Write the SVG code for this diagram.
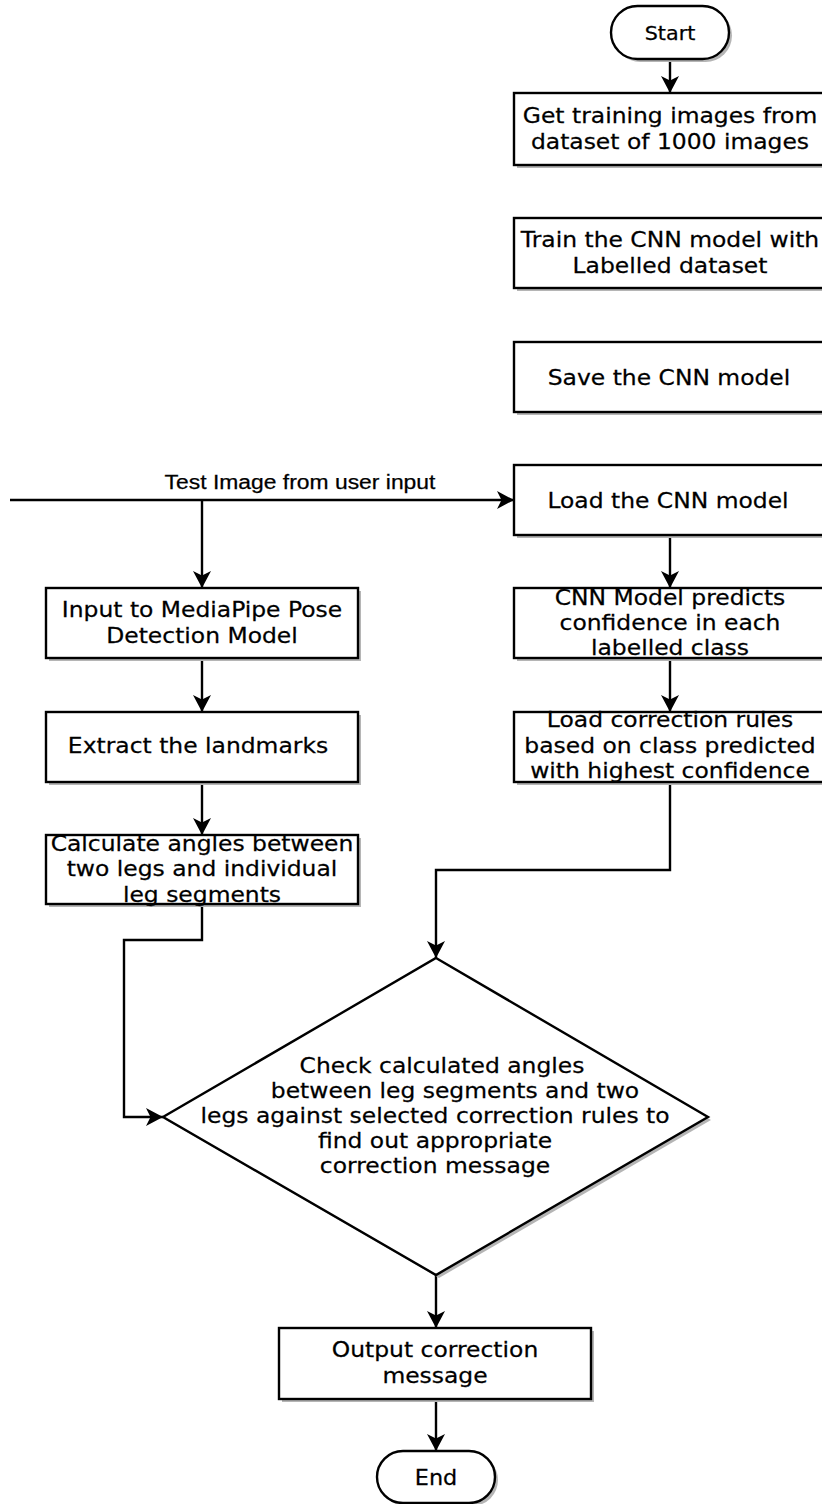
<svg xmlns="http://www.w3.org/2000/svg" width="822" height="1504" viewBox="0 0 822 1504">
<defs>
<style>
.box{fill:#fff;stroke:#000;stroke-width:2.4}
.sh{fill:#b5b5b5}
.t{font-family:"DejaVu Sans",Verdana,sans-serif;font-size:21.5px;fill:#000;stroke:#000;stroke-width:0.25;text-anchor:middle}
.lbl{font-family:"Liberation Sans",Arial,sans-serif;font-size:21px;fill:#000;stroke:#000;stroke-width:0.25;text-anchor:middle}
.c{fill:none;stroke:#000;stroke-width:2.4}
</style>
<marker id="ah" viewBox="0 0 17 18" refX="17" refY="9" markerWidth="17" markerHeight="18" markerUnits="userSpaceOnUse" orient="auto">
<path d="M0,0 L17,9 L0,18 L4.5,9 Z" fill="#000"/>
</marker>
</defs>
<rect width="822" height="1504" fill="#fff"/>

<g id="connectors">
<path class="c" d="M10,500 H514" marker-end="url(#ah)"/>
<path class="c" d="M202,500 V588" marker-end="url(#ah)"/>
<path class="c" d="M670,59 V93" marker-end="url(#ah)"/>
<path class="c" d="M670,535 V588" marker-end="url(#ah)"/>
<path class="c" d="M670,658 V712" marker-end="url(#ah)"/>
<path class="c" d="M670,782 V870 H436 V958" marker-end="url(#ah)"/>
<path class="c" d="M202,658 V712" marker-end="url(#ah)"/>
<path class="c" d="M202,782 V835" marker-end="url(#ah)"/>
<path class="c" d="M202,904 V940 H124 V1117 H163" marker-end="url(#ah)"/>
<path class="c" d="M436,1275 V1328" marker-end="url(#ah)"/>
<path class="c" d="M436,1399 V1451" marker-end="url(#ah)"/>
<text class="lbl" transform="matrix(1.09 0 0 1 300 0)" x="0" y="489">Test Image from user input</text>
</g>

<g id="start">
<rect class="sh" x="614" y="9" width="118" height="53" rx="26.5"/>
<rect class="box" x="611" y="6" width="118" height="53" rx="26.5"/>
<text class="t" style="font-size:19px" transform="matrix(1.09 0 0 1 670 0)" x="0" y="40">Start</text>
</g>

<g id="get-images">
<rect class="sh" x="517" y="96" width="312" height="72"/>
<rect class="box" x="514" y="93" width="312" height="72"/>
<g transform="matrix(1.09 0 0 1 670 0)">
<text class="t" x="0" y="123">Get training images from</text>
<text class="t" x="0" y="149">dataset of 1000 images</text>
</g>
</g>

<g id="train">
<rect class="sh" x="517" y="221" width="312" height="70"/>
<rect class="box" x="514" y="218" width="312" height="70"/>
<g transform="matrix(1.09 0 0 1 670 0)">
<text class="t" x="0" y="247">Train the CNN model with</text>
<text class="t" x="0" y="273">Labelled dataset</text>
</g>
</g>

<g id="save">
<rect class="sh" x="517" y="345" width="312" height="70"/>
<rect class="box" x="514" y="342" width="312" height="70"/>
<text class="t" transform="matrix(1.09 0 0 1 669 0)" x="0" y="385">Save the CNN model</text>
</g>

<g id="load">
<rect class="sh" x="517" y="468" width="312" height="70"/>
<rect class="box" x="514" y="465" width="312" height="70"/>
<text class="t" transform="matrix(1.09 0 0 1 668 0)" x="0" y="508">Load the CNN model</text>
</g>

<g id="predict">
<rect class="sh" x="517" y="591" width="312" height="70"/>
<rect class="box" x="514" y="588" width="312" height="70"/>
<g transform="matrix(1.09 0 0 1 670 0)">
<text class="t" x="0" y="605">CNN Model predicts</text>
<text class="t" x="0" y="630">confidence in each</text>
<text class="t" x="0" y="655">labelled class</text>
</g>
</g>

<g id="rules">
<rect class="sh" x="517" y="715" width="312" height="70"/>
<rect class="box" x="514" y="712" width="312" height="70"/>
<g transform="matrix(1.09 0 0 1 670 0)">
<text class="t" x="0" y="727">Load correction rules</text>
<text class="t" x="0" y="753">based on class predicted</text>
<text class="t" x="0" y="778">with highest confidence</text>
</g>
</g>

<g id="mediapipe">
<rect class="sh" x="49" y="591" width="312" height="70"/>
<rect class="box" x="46" y="588" width="312" height="70"/>
<g transform="matrix(1.09 0 0 1 202 0)">
<text class="t" x="0" y="617">Input to MediaPipe Pose</text>
<text class="t" x="0" y="643">Detection Model</text>
</g>
</g>

<g id="landmarks">
<rect class="sh" x="49" y="715" width="312" height="70"/>
<rect class="box" x="46" y="712" width="312" height="70"/>
<text class="t" transform="matrix(1.09 0 0 1 198 0)" x="0" y="753">Extract the landmarks</text>
</g>

<g id="angles">
<rect class="sh" x="49" y="838" width="312" height="69"/>
<rect class="box" x="46" y="835" width="312" height="69"/>
<g transform="matrix(1.09 0 0 1 202 0)">
<text class="t" x="0" y="851">Calculate angles between</text>
<text class="t" x="0" y="876">two legs and individual</text>
<text class="t" x="0" y="902">leg segments</text>
</g>
</g>

<g id="check">
<polygon class="sh" points="439,961 711,1120 439,1278 166,1120"/>
<polygon class="box" points="436,958 708,1117 436,1275 163,1117"/>
<text class="t" transform="matrix(1.09 0 0 1 442 0)" x="0" y="1073">Check calculated angles</text>
<text class="t" transform="matrix(1.09 0 0 1 455 0)" x="0" y="1098">between leg segments and two</text>
<text class="t" transform="matrix(1.09 0 0 1 435 0)" x="0" y="1123">legs against selected correction rules to</text>
<text class="t" transform="matrix(1.09 0 0 1 435 0)" x="0" y="1148">find out appropriate</text>
<text class="t" transform="matrix(1.09 0 0 1 435 0)" x="0" y="1173">correction message</text>
</g>

<g id="output">
<rect class="sh" x="282" y="1331" width="312" height="71"/>
<rect class="box" x="279" y="1328" width="312" height="71"/>
<g transform="matrix(1.09 0 0 1 435 0)">
<text class="t" x="0" y="1357">Output correction</text>
<text class="t" x="0" y="1383">message</text>
</g>
</g>

<g id="end">
<rect class="sh" x="380" y="1454" width="118" height="52" rx="26"/>
<rect class="box" x="377" y="1451" width="118" height="52" rx="26"/>
<text class="t" style="font-size:20.5px" transform="matrix(1.09 0 0 1 436 0)" x="0" y="1485">End</text>
</g>
</svg>
